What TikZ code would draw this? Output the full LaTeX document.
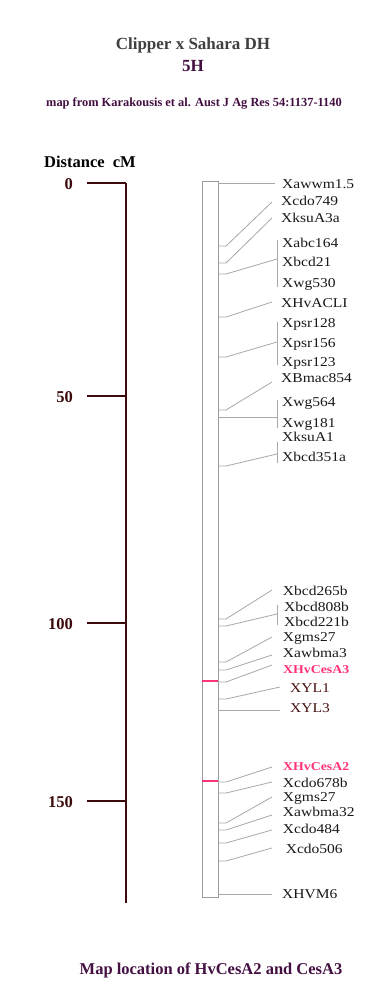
\documentclass[tikz,border=0pt]{standalone}
\usepackage{fontspec}
\setmainfont{Liberation Serif}
\definecolor{titlegray}{HTML}{404040}
\definecolor{plum}{HTML}{441042}
\definecolor{axisbrown}{HTML}{3C0A0A}
\definecolor{linegray}{HTML}{A8A8A8}
\definecolor{barline}{HTML}{9A9A9A}
\definecolor{cesred}{HTML}{FF3377}
\definecolor{ylbrown}{HTML}{4A1212}
\newcommand\mksingle[5]{% name, bar y, end y, label y, text
  \coordinate (#1b) at (218,#2);
  \coordinate (#1e) at (272,#3);
  \node[lab] (#1) at (281,#4+4.5) {#5};
  \draw[conn] (#1b) -- ++(8,0) -- (#1e);}
\newcommand\mklabel[3]{% name, label y, text
  \node[lab] (#1) at (282,#2+4.5) {#3};}
\newcommand\mkgroup[5]{% name, bar y, end y, bracket top, bracket bottom
  \coordinate (#1b) at (218,#2);
  \coordinate (#1e) at (277,#3);
  \coordinate (#1t) at (277,#4);
  \coordinate (#1u) at (277,#5);
  \draw[conn] (#1b) -- ++(8,0) -- (#1e);
  \draw[conn] (#1t) -- (#1u);}
\begin{document}
\begin{tikzpicture}[x=1pt,y=-1pt,
  lab/.style={anchor=base west, inner sep=0pt, xscale=1.15, font=\fontsize{13.5}{14}\selectfont, text=black!90},
  redlab/.style={lab, font=\fontsize{12}{13}\selectfont\bfseries, text=cesred},
  yllab/.style={lab, text=ylbrown},
  conn/.style={draw=linegray, line width=0.8pt},
  axisline/.style={draw=axisbrown, line width=1.8pt},
  num/.style={anchor=east, inner sep=0pt, font=\fontsize{16.5}{17}\selectfont\bfseries, text=axisbrown},
  title/.style={inner sep=0pt, font=\fontsize{17}{18}\selectfont\bfseries}]
\useasboundingbox (0,0) rectangle (387,1004);
\fill[white] (0,0) rectangle (387,1004);
% titles
\node[title, text=titlegray] (t1) at (193,45) {Clipper x Sahara DH};
\node[title, text=plum] (t2) at (193,66) {5H};
\node[inner sep=0pt, font=\fontsize{12.4}{13}\selectfont\bfseries, text=plum] (t3) at (194,104) {map from Karakousis et al. Aust J Ag Res 54:1137-1140};
\node[inner sep=0pt, font=\fontsize{16.5}{18}\selectfont\bfseries, text=plum] (cap) at (211,970) {Map location of HvCesA2 and CesA3};
% axis
\node[inner sep=0pt, font=\fontsize{16.5}{18}\selectfont\bfseries] (dist) at (90,162) {Distance\ \ cM};
\coordinate (atop) at (126,183);
\coordinate (abot) at (126,903);
\draw[axisline] (atop) -- (abot);
\foreach \nm/\v/\yy in {n0/0/183, n50/50/396, n100/100/623, n150/150/801}{
  \node[num] (\nm) at (73,\yy+1) {\v};
  \coordinate (\nm a) at (87,\yy);
  \draw[axisline] (\nm a) -- (126,\yy);
}
% chromosome bar
\node[draw=barline, fill=white, line width=1pt, minimum width=16pt, minimum height=716pt, inner sep=0pt] (chr) at (210,539) {};
\coordinate (r3a) at (202,681); \coordinate (r3b) at (218,681);
\coordinate (r2a) at (202,781); \coordinate (r2b) at (218,781);
\draw[cesred, line width=2pt] (r3a) -- (r3b);
\draw[cesred, line width=2pt] (r2a) -- (r2b);
% markers
\coordinate (awb) at (218,183); \coordinate (awe) at (275,183);
\draw[conn] (awb) -- (awe);
\mklabel{aw}{184}{Xawwm1.5}
\mksingle{cdo}{246}{202}{201}{Xcdo749}
\mksingle{ksu}{263}{218}{218}{XksuA3a}
\mkgroup{g1}{274}{259}{240}{287}
\mklabel{abc}{243}{Xabc164}
\mklabel{bcd}{262}{Xbcd21}
\mklabel{wg5}{283}{Xwg530}
\mksingle{acl}{317}{302}{303}{XHvACLI}
\mkgroup{g2}{357}{342}{322}{365}
\mklabel{p128}{323}{Xpsr128}
\mklabel{p156}{343}{Xpsr156}
\mklabel{p123}{362}{Xpsr123}
\mksingle{bmac}{410}{382}{378}{XBmac854}
\coordinate (g3b) at (218,417); \coordinate (g3e) at (277,417);
\coordinate (g3t) at (277,400); \coordinate (g3u) at (277,428);
\draw[conn] (g3b) -- (g3e); \draw[conn] (g3t) -- (g3u);
\mklabel{w564}{402}{Xwg564}
\mklabel{w181}{423}{Xwg181}
\mkgroup{g4}{466}{454}{442}{463}
\mklabel{ksa1}{437}{XksuA1}
\mklabel{b351}{457}{Xbcd351a}
\mksingle{b265}{619}{590}{591}{\hspace{1.5pt}Xbcd265b}
\mkgroup{g5}{626}{614}{605}{625}
\node[lab] (b808) at (284,607+4.5) {Xbcd808b};
\node[lab] (b221) at (284,622+4.5) {Xbcd221b};
\mksingle{gms}{662}{637}{637}{\hspace{1.5pt}Xgms27}
\mksingle{awb3}{670}{655}{653}{\hspace{1.5pt}Xawbma3}
\coordinate (c3b) at (218,682); \coordinate (c3e) at (272,665);
\draw[conn] (c3b) -- ++(8,0) -- (c3e);
\node[redlab] (ces3) at (283,669+4) {XHvCesA3};
\coordinate (yl1b) at (218,699); \coordinate (yl1e) at (280,687);
\draw[conn] (yl1b) -- ++(8,0) -- (yl1e);
\node[yllab] (yl1) at (290,688+4.5) {XYL1};
\coordinate (yl3b) at (218,710); \coordinate (yl3e) at (280,710);
\draw[conn] (yl3b) -- (yl3e);
\node[yllab] (yl3) at (290,708+4.5) {XYL3};
\coordinate (c2b) at (218,782); \coordinate (c2e) at (272,767);
\draw[conn] (c2b) -- ++(8,0) -- (c2e);
\node[redlab] (ces2) at (283,766+4) {XHvCesA2};
\mksingle{c678}{793}{782}{783}{\hspace{1.5pt}Xcdo678b}
\mksingle{gms2}{823}{797}{797}{\hspace{1.5pt}Xgms27}
\mksingle{awb32}{830}{815}{812}{\hspace{1.5pt}Xawbma32}
\mksingle{c484}{843}{830}{829}{\hspace{1.5pt}Xcdo484}
\mksingle{c506}{861}{848}{849}{\hspace{4pt}Xcdo506}
\coordinate (hvb) at (218,894); \coordinate (hve) at (272,894);
\draw[conn] (hvb) -- (hve);
\node[lab] (hvm) at (282,894+4.5) {XHVM6};
\end{tikzpicture}
\end{document}
